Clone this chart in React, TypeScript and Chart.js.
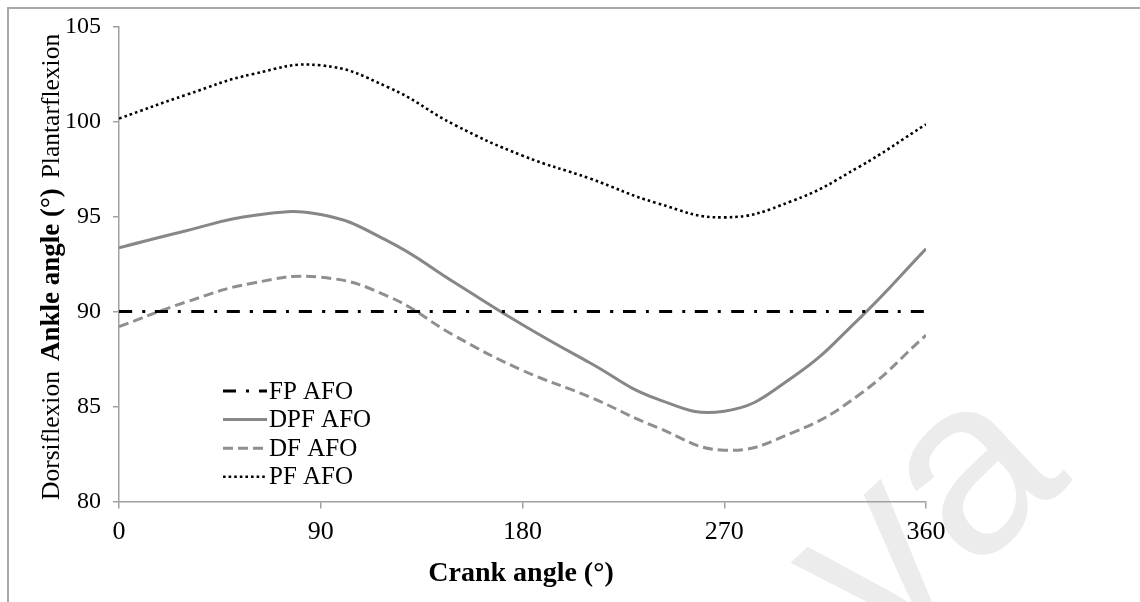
import React, { useEffect, useRef } from 'react';
import { Chart, registerables } from 'chart.js';

Chart.register(...registerables);

// ---- data ----
const crankAngles = [0, 30, 60, 90, 120, 150, 180, 210, 240, 270, 300, 330, 360];
const fpAfo = [90, 90, 90, 90, 90, 90, 90, 90, 90, 90, 90, 90, 90];
const dpfAfo = [93.35, 94.25, 95.05, 95.1, 93.7, 91.5, 89.3, 87.3, 85.4, 84.75, 86.5, 89.6, 93.3];
const dfAfo = [89.2, 90.5, 91.5, 91.8, 90.8, 88.7, 86.9, 85.5, 83.9, 82.7, 83.6, 85.6, 88.75];
const pfAfo = [100.15, 101.4, 102.5, 102.95, 101.8, 99.8, 98.2, 97.0, 95.7, 94.95, 95.8, 97.6, 99.85];
const seriesNames = ['FP AFO', 'DPF AFO', 'DF AFO', 'PF AFO'];
const xTicks = [0, 90, 180, 270, 360];
const yTicks = [80, 85, 90, 95, 100, 105];
const xTitle = 'Crank angle (°)';
const yTitleLow = 'Dorsiflexion';
const yTitleMain = 'Ankle angle (°)';
const yTitleHigh = 'Plantarflexion';
const watermark = 'va';

// ---- layout ----
const W = 1140;
const H = 602;
const AREA_LEFT = 119;
const AREA_RIGHT = 926;
const AREA_TOP = 23.5;
const AREA_BOTTOM = 501.5;
const SERIF = '"Liberation Serif", "Times New Roman", serif';

const styles = [
  { color: '#000000', width: 3, dash: [13, 10, 3, 10] },
  { color: '#878787', width: 3, dash: [] as number[] },
  { color: '#8f8f8f', width: 3, dash: [10, 5] },
  { color: '#000000', width: 2.6, dash: [2.6, 3] },
];

const decorPlugin = {
  id: 'decor',
  beforeDraw(chart: any) {
    const ctx = chart.ctx as CanvasRenderingContext2D;
    ctx.save();
    ctx.fillStyle = '#ffffff';
    ctx.fillRect(0, 0, W, H);
    // watermark
    ctx.save();
    ctx.translate(880, 660);
    ctx.rotate(-0.75);
    ctx.font = '250px "Liberation Sans", Arial, sans-serif';
    ctx.fillStyle = '#ececec';
    ctx.textBaseline = 'alphabetic';
    ctx.fillText(watermark, 0, 0);
    ctx.restore();
    // frame
    ctx.fillStyle = '#a8a8a8';
    ctx.fillRect(7, 7, W - 7, 2);
    ctx.fillRect(7, 7, 2, H - 7);
    ctx.restore();
  },
  afterDraw(chart: any) {
    const ctx = chart.ctx as CanvasRenderingContext2D;
    ctx.save();
    ctx.fillStyle = '#000000';
    // x title
    ctx.font = `bold 28px ${SERIF}`;
    ctx.textAlign = 'center';
    ctx.textBaseline = 'alphabetic';
    ctx.fillText(xTitle, 521, 581);
    // y title (rotated), segments laid out from bottom upwards
    ctx.save();
    ctx.translate(59, 0);
    ctx.rotate(-Math.PI / 2);
    ctx.textBaseline = 'alphabetic';
    ctx.textAlign = 'left';
    const segs = [
      { text: yTitleLow, font: `25.5px ${SERIF}` },
      { text: yTitleMain, font: `bold 27px ${SERIF}` },
      { text: yTitleHigh, font: `25.5px ${SERIF}` },
    ];
    let pos = -500;
    segs.forEach((s) => {
      ctx.font = s.font;
      ctx.fillText(s.text, pos, 0);
      pos += ctx.measureText(s.text).width + 10;
    });
    ctx.restore();
    // legend
    [0, 1, 2, 3].forEach((di, i) => {
      const ds = chart.data.datasets[di];
      const y = 391 + i * 28.6;
      ctx.save();
      ctx.strokeStyle = ds.borderColor;
      ctx.lineWidth = ds.borderWidth;
      ctx.setLineDash(ds.borderDash || []);
      ctx.beginPath();
      ctx.moveTo(223, y);
      ctx.lineTo(267, y);
      ctx.stroke();
      ctx.restore();
      ctx.font = `25px ${SERIF}`;
      ctx.textAlign = 'left';
      ctx.textBaseline = 'middle';
      ctx.fillStyle = '#000000';
      ctx.fillText(ds.label, 269, y + 1);
    });
    ctx.restore();
  },
};

export default function App() {
  const canvasRef = useRef<HTMLCanvasElement | null>(null);

  useEffect(() => {
    const canvas = canvasRef.current;
    if (!canvas) return;
    const seriesValues = [fpAfo, dpfAfo, dfAfo, pfAfo];
    const chart = new Chart(canvas, {
      type: 'line',
      data: {
        datasets: seriesValues.map((vals, i) => ({
          label: seriesNames[i],
          data: crankAngles.map((a, j) => ({ x: a, y: vals[j] })),
          borderColor: styles[i].color,
          borderWidth: styles[i].width,
          borderDash: styles[i].dash,
          pointRadius: 0,
          fill: false,
          tension: 0.45,
        })),
      },
      options: {
        animation: false,
        responsive: false,
        devicePixelRatio: 1,
        layout: {
          padding: { left: 0, top: AREA_TOP, right: W - AREA_RIGHT, bottom: 0 },
        },
        plugins: {
          legend: { display: false },
          tooltip: { enabled: false },
        },
        scales: {
          x: {
            type: 'linear',
            min: 0,
            max: 360,
            afterBuildTicks: (scale: any) => {
              scale.ticks = xTicks.map((v) => ({ value: v }));
            },
            afterFit: (scale: any) => {
              scale.height = H - AREA_BOTTOM;
            },
            grid: { drawOnChartArea: false, drawTicks: true, tickLength: 7, color: '#a0a0a0', lineWidth: 1.5 },
            border: { color: '#a0a0a0', width: 1.5 },
            ticks: {
              color: '#000000',
              font: { family: SERIF, size: 26 },
              padding: 8,
              maxRotation: 0,
            },
          },
          y: {
            type: 'linear',
            min: 80,
            max: 105,
            afterBuildTicks: (scale: any) => {
              scale.ticks = yTicks.map((v) => ({ value: v }));
            },
            afterFit: (scale: any) => {
              scale.width = AREA_LEFT;
            },
            grid: { drawOnChartArea: false, drawTicks: true, tickLength: 6, color: '#a0a0a0', lineWidth: 1.5 },
            border: { color: '#a0a0a0', width: 1.5 },
            ticks: {
              color: '#000000',
              font: { family: SERIF, size: 24 },
              padding: 12,
            },
          },
        },
      },
      plugins: [decorPlugin],
    });
    return () => chart.destroy();
  }, []);

  return (
    <div style={{ position: 'fixed', left: 0, top: 0, width: W, height: H, background: '#fff' }}>
      <canvas ref={canvasRef} width={W} height={H} style={{ width: W, height: H, display: 'block' }} />
    </div>
  );
}
